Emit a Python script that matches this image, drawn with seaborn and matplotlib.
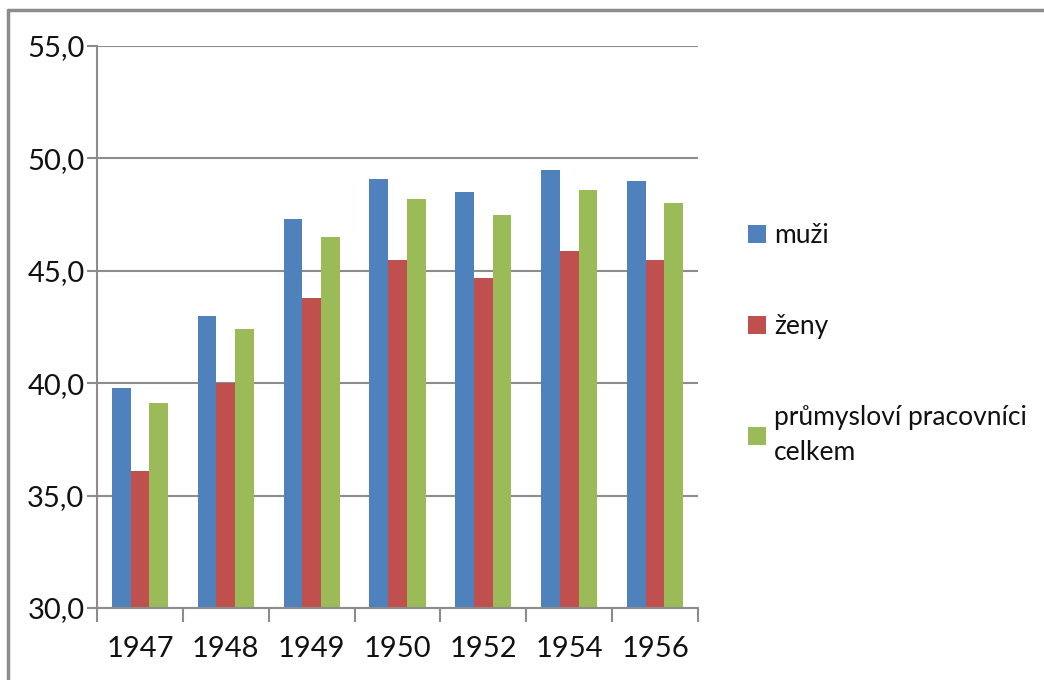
import matplotlib
matplotlib.use("Agg")
import matplotlib.pyplot as plt
import seaborn as sns
import pandas as pd
from matplotlib.lines import Line2D
from matplotlib.ticker import FuncFormatter, MultipleLocator

years = ["1947", "1948", "1949", "1950", "1952", "1954", "1956"]
muzi = [39.8, 43.0, 47.3, 49.1, 48.5, 49.5, 49.0]
zeny = [36.1, 40.0, 43.8, 45.5, 44.7, 45.9, 45.5]
celkem = [39.1, 42.4, 46.5, 48.2, 47.5, 48.6, 48.0]
series = ["muži", "ženy", "průmysloví pracovníci\ncelkem"]
colors = ["#4f81bd", "#c0504d", "#9bbb59"]

rows = []
for name, vals in zip(series, [muzi, zeny, celkem]):
    for y, v in zip(years, vals):
        rows.append({"rok": y, "serie": name, "hodnota": v})
df = pd.DataFrame(rows)

sns.set_theme(style="white")
plt.rcParams["font.family"] = ["Lato", "DejaVu Sans"]

fig = plt.figure(figsize=(10.44, 6.8), dpi=100)
ax = fig.add_axes([97 / 1044, 1 - 608 / 680, 601 / 1044, 562 / 680])

sns.barplot(data=df, x="rok", y="hodnota", hue="serie", palette=colors,
            width=0.655, ax=ax, saturation=1, edgecolor="none")

ax.set_ylim(30, 55)
ax.set_xlim(-0.5, len(years) - 0.5)
ax.yaxis.set_major_locator(MultipleLocator(5))
ax.yaxis.set_major_formatter(FuncFormatter(lambda v, p: f"{v:.1f}".replace(".", ",")))
ax.set_xlabel("")
ax.set_ylabel("")

grid_c = "#8c8c8c"
ax.grid(axis="y", color=grid_c, linewidth=1.5)
ax.set_axisbelow(True)
for s in ["top", "right"]:
    ax.spines[s].set_visible(False)
for s in ["left", "bottom"]:
    ax.spines[s].set_color(grid_c)
    ax.spines[s].set_linewidth(1.5)

ax.tick_params(axis="y", which="major", direction="out", length=7, width=1.5,
               color=grid_c, labelsize=21, pad=2, left=True, labelcolor="#111111")
ax.tick_params(axis="x", which="major", length=0, labelsize=21, pad=20,
               labelcolor="#111111")
ax.set_xticks([i - 0.5 for i in range(len(years) + 1)], minor=True)
ax.tick_params(axis="x", which="minor", direction="out", length=10, width=1.5,
               color=grid_c, bottom=True)

leg = ax.legend(loc="upper left", bbox_to_anchor=(1.083, 0.685), frameon=False,
                fontsize=19, handlelength=0.7, handleheight=0.7, handletextpad=0.3,
                labelspacing=2.5, borderaxespad=0, borderpad=0)
for t in leg.get_texts():
    t.set_color("#111111")
    t.set_linespacing(1.5)

# outer chart border
fig.add_artist(Line2D([8 / 1044, 8 / 1044], [0, 1 - 10 / 680], color="#8c8c8c",
                      linewidth=2.5, transform=fig.transFigure))
fig.add_artist(Line2D([8 / 1044, 1], [1 - 10 / 680, 1 - 10 / 680], color="#8c8c8c",
                      linewidth=2.5, transform=fig.transFigure))

fig.savefig("out.png", dpi=100)
